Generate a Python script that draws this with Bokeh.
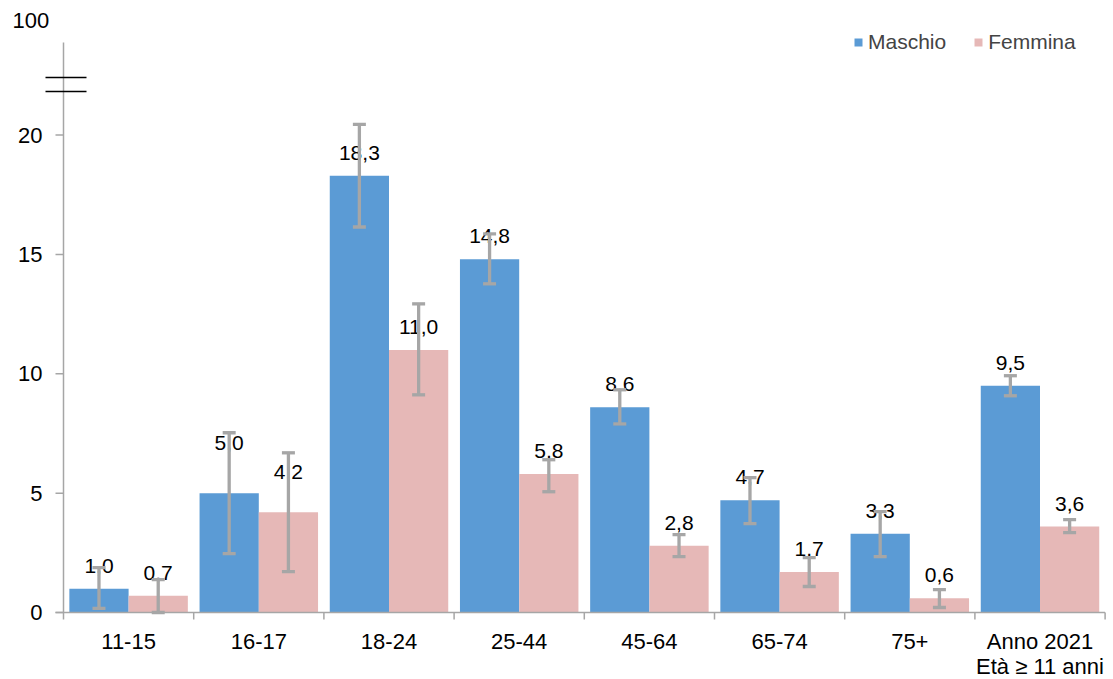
from bokeh.plotting import figure
from bokeh.models import (ColumnDataSource, Range1d, FixedTicker, Whisker, TeeHead,
                          LabelSet, Legend, LegendItem)
from bokeh.core.properties import value
from bokeh.embed import file_html
from bokeh.resources import INLINE
import numpy as np

categories = ["11-15", "16-17", "18-24", "25-44", "45-64", "65-74", "75+", "Anno 2021\nEtà ≥ 11 anni"]
maschio = [1.0, 5.0, 18.3, 14.8, 8.6, 4.7, 3.3, 9.5]
maschio_low = [0.17, 2.47, 16.15, 13.77, 7.90, 3.72, 2.34, 9.08]
maschio_high = [1.88, 7.53, 20.45, 15.86, 9.33, 5.65, 4.23, 9.92]
femmina = [0.7, 4.2, 11.0, 5.8, 2.8, 1.7, 0.6, 3.6]
femmina_low = [0.0, 1.71, 9.12, 5.06, 2.34, 1.09, 0.21, 3.35]
femmina_high = [1.38, 6.69, 12.93, 6.40, 3.26, 2.30, 0.96, 3.89]
y_ticks = [0, 5, 10, 15, 20]
y_tick_labels = ["0", "5", "10", "15", "20"]
top_label = "100"
axis_top = 23.88      # where the drawn y axis ends (broken axis)
top_label_pos = 24.8  # position of the "100" label above the break

FONT = "Liberation Sans"
BLUE = "#5B9BD5"
PINK = "#E6B8B7"
GREY = "#A6A6A6"

n = len(categories)
CAT_PX = 130.2
UNIT_PX = 23.87
PX_X = 1.0 / CAT_PX
PX_Y = 1.0 / UNIT_PX

LEFT_PX = 63      # frame pixels left of the value axis
BELOW_PX = 10     # frame pixels below zero
FRAME_W = 1108
FRAME_H = 622
x_start = -LEFT_PX * PX_X
x_end = x_start + FRAME_W * PX_X
y_start = -BELOW_PX * PX_Y
y_end = y_start + FRAME_H * PX_Y

bw = 0.455
centers = np.arange(n) + 0.5
xm = centers - bw / 2
xf = centers + bw / 2

def fmt(v):
    return f"{v:.1f}".replace(".", ",")

extra_m = {1: 27}
extra_f = {1: 17}
base_off = 23

src_m = ColumnDataSource(dict(x=xm, top=maschio, lo=maschio_low, hi=maschio_high,
                              lab=[fmt(v) for v in maschio],
                              off=[base_off + extra_m.get(i, 0) for i in range(n)]))
src_f = ColumnDataSource(dict(x=xf, top=femmina, lo=femmina_low, hi=femmina_high,
                              lab=[fmt(v) for v in femmina],
                              off=[base_off + extra_f.get(i, 0) for i in range(n)]))

p = figure(frame_width=FRAME_W, frame_height=FRAME_H, output_backend="svg", toolbar_location=None,
           x_range=Range1d(x_start, x_end), y_range=Range1d(y_start, y_end),
           y_axis_location=None,
           min_border_left=0, min_border_top=0, min_border_right=2, min_border_bottom=0)
p.outline_line_color = None
p.xgrid.visible = False
p.ygrid.visible = False
p.background_fill_color = "white"

rm = p.vbar(x="x", top="top", width=bw, source=src_m, fill_color=BLUE, line_color=None)
rf = p.vbar(x="x", top="top", width=bw, source=src_f, fill_color=PINK, line_color=None)

# drawn y axis (broken), ticks and labels
p.segment(x0=[0], y0=[0], x1=[0], y1=[axis_top], line_color=GREY, line_width=1.5)
p.segment(x0=[-8 * PX_X] * len(y_ticks), y0=y_ticks, x1=[0] * len(y_ticks), y1=y_ticks,
          line_color=GREY, line_width=1.5)
# category axis line and boundary ticks
p.segment(x0=[-8 * PX_X], y0=[0], x1=[n], y1=[0], line_color=GREY, line_width=1.5)
bounds = list(range(n + 1))
p.segment(x0=bounds, y0=[0] * len(bounds), x1=bounds, y1=[-7 * PX_Y] * len(bounds),
          line_color=GREY, line_width=1.5)
p.text(x=[-21 * PX_X] * len(y_ticks), y=y_ticks, text=y_tick_labels, text_align="right",
       text_baseline="middle", text_font=value(FONT), text_font_size="22px", text_color="black")
p.text(x=[-14.3 * PX_X], y=[top_label_pos], text=[top_label], text_align="right",
       text_baseline="middle", text_font=value(FONT), text_font_size="22px", text_color="black")
brk = [axis_top - 35 * PX_Y, axis_top - 49 * PX_Y]
p.segment(x0=[-18 * PX_X] * 2, y0=brk, x1=[23 * PX_X] * 2, y1=brk,
          line_color="black", line_width=1.5)

for src in (src_m, src_f):
    p.add_layout(LabelSet(x="x", y="top", text="lab", source=src, y_offset="off",
                          text_align="center", text_baseline="middle", level="annotation",
                          text_font=value(FONT), text_font_size="21px", text_color="black"))
for src in (src_m, src_f):
    p.add_layout(Whisker(base="x", lower="lo", upper="hi", source=src, level="overlay",
                         line_color=GREY, line_width=3.3,
                         upper_head=TeeHead(size=13, line_color=GREY, line_width=3.3),
                         lower_head=TeeHead(size=13, line_color=GREY, line_width=3.3)))

xa = p.xaxis[0]
xa.ticker = FixedTicker(ticks=list(centers), minor_ticks=[])
xa.major_label_overrides = {float(c): lab for c, lab in zip(centers, categories)}
xa.major_tick_out = 0
xa.major_tick_in = 0
xa.minor_tick_out = 0
xa.minor_tick_in = 0
xa.axis_line_color = None
xa.major_label_text_font = FONT
xa.major_label_text_font_size = "22px"
xa.major_label_text_color = "black"
xa.major_label_text_line_height = 1.0
xa.major_label_standoff = 6

legend = Legend(items=[LegendItem(label="Maschio", renderers=[rm]),
                       LegendItem(label="Femmina", renderers=[rf])],
                orientation="horizontal", location=(853, 568),
                glyph_width=10, glyph_height=10, label_standoff=5, spacing=27,
                padding=0, margin=0, border_line_color=None, background_fill_alpha=0,
                label_text_font=FONT, label_text_font_size="21px", label_height=22)
p.add_layout(legend)

open("out.html", "w").write(file_html(p, INLINE))
